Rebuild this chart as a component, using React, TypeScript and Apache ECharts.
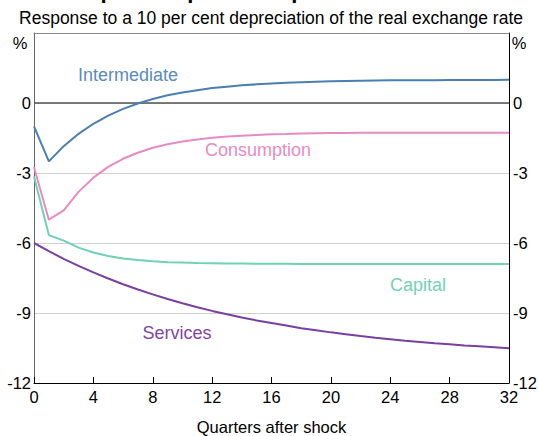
import React, { useEffect, useRef } from "react";
import * as echarts from "echarts";

const quarters: number[] = Array.from({ length: 33 }, (_, i) => i);

const intermediate = [
  -1.0, -2.5, -1.85, -1.32, -0.89, -0.54, -0.25, -0.02, 0.17, 0.33, 0.45, 0.55, 0.64,
  0.7, 0.76, 0.8, 0.84, 0.87, 0.89, 0.91, 0.93, 0.94, 0.95, 0.96, 0.97, 0.975, 0.98,
  0.98, 0.985, 0.99, 0.99, 0.99, 1.0,
];
const consumption = [
  -2.75, -5.0, -4.6, -3.81, -3.2, -2.74, -2.39, -2.13, -1.92, -1.77, -1.65, -1.56, -1.49,
  -1.44, -1.4, -1.37, -1.34, -1.33, -1.31, -1.3, -1.29, -1.29, -1.28, -1.28, -1.28,
  -1.28, -1.27, -1.27, -1.27, -1.27, -1.27, -1.27, -1.27,
];
const capital = [
  -3.15, -5.66, -5.9, -6.2, -6.41, -6.56, -6.66, -6.73, -6.78, -6.82, -6.84, -6.86,
  -6.87, -6.88, -6.88, -6.89, -6.89, -6.89, -6.9, -6.9, -6.9, -6.9, -6.9, -6.9, -6.9,
  -6.9, -6.9, -6.9, -6.9, -6.9, -6.9, -6.9, -6.9,
];
const services = [
  -6.0, -6.35, -6.68, -6.98, -7.26, -7.52, -7.77, -7.99, -8.2, -8.4, -8.58, -8.75, -8.91,
  -9.05, -9.19, -9.32, -9.43, -9.54, -9.65, -9.74, -9.83, -9.91, -9.99, -10.06, -10.12,
  -10.19, -10.24, -10.3, -10.34, -10.39, -10.43, -10.47, -10.51,
];

const seriesNames = ["Intermediate", "Consumption", "Capital", "Services"];
const colors = ["#4a7fb1", "#e88bc4", "#6fd3b2", "#7a3fa3"];

const FONT = "Arial, 'Liberation Sans', sans-serif";
const TICK = 16.5;

export default function App() {
  const ref = useRef<HTMLDivElement>(null);
  useEffect(() => {
    if (!ref.current) return;
    const chart = echarts.init(ref.current, null, { renderer: "svg" });
    const datasets = [intermediate, consumption, capital, services];
    const yLabel = (v: number) => (v === 3 ? "" : String(v));
    const lbl = (text: string, x: number, y: number, fill: string, size = 18) => ({
      type: "text",
      x,
      y,
      style: { text, fontSize: size, fill, align: "center", verticalAlign: "middle", fontFamily: FONT },
    });
    chart.setOption({
      animation: false,
      textStyle: { fontFamily: FONT },
      grid: { left: 34, right: 29, top: 33, bottom: 53, containLabel: false, outerBoundsMode: "none" },
      xAxis: [
        {
          type: "value",
          min: 0,
          max: 32,
          interval: 4,
          position: "bottom",
          name: "Quarters after shock",
          nameLocation: "middle",
          nameGap: 35,
          nameTextStyle: { fontSize: 16.5, color: "#000", fontFamily: FONT },
          axisLine: { show: true, onZero: false, lineStyle: { color: "#000", width: 1 } },
          axisTick: { show: true, inside: true, length: 6, lineStyle: { color: "#000" } },
          axisLabel: { fontSize: TICK, color: "#000", margin: 5, fontFamily: FONT },
          splitLine: { show: false },
        },
        {
          type: "value",
          min: 0,
          max: 32,
          interval: 4,
          position: "top",
          axisLine: { show: true, onZero: false, lineStyle: { color: "#888", width: 1 } },
          axisTick: { show: false },
          axisLabel: { show: false },
          splitLine: { show: false },
        },
      ],
      yAxis: [
        {
          type: "value",
          min: -12,
          max: 3,
          interval: 3,
          position: "left",
          axisLine: { show: true, onZero: false, lineStyle: { color: "#666", width: 1 } },
          axisTick: { show: false },
          axisLabel: { fontSize: TICK, color: "#000", margin: 3, formatter: yLabel, fontFamily: FONT },
          splitLine: { show: true, lineStyle: { color: "#d0d0d0", width: 1 } },
        },
        {
          type: "value",
          min: -12,
          max: 3,
          interval: 3,
          position: "right",
          axisLine: { show: true, onZero: false, lineStyle: { color: "#000", width: 1 } },
          axisTick: { show: false },
          axisLabel: { fontSize: TICK, color: "#000", margin: 4, formatter: yLabel, fontFamily: FONT },
          splitLine: { show: false },
        },
      ],
      series: datasets.map((d, i) => ({
        name: seriesNames[i],
        type: "line",
        data: d.map((v, j) => [quarters[j], v]),
        showSymbol: false,
        symbol: "none",
        lineStyle: { color: colors[i], width: 2 },
        z: 3,
        markLine:
          i === 0
            ? {
                silent: true,
                symbol: "none",
                label: { show: false },
                lineStyle: { color: "#555", width: 1.5, type: "solid" },
                data: [{ yAxis: 0 }],
                z: 2,
              }
            : undefined,
      })),
      graphic: [
        {
          type: "text",
          x: 271,
          y: -10,
          style: {
            text: "Imports Impulse Response Functions",
            fontSize: 22,
            fontWeight: "bold",
            fill: "#000",
            align: "center",
            verticalAlign: "middle",
            fontFamily: FONT,
          },
        },
        lbl("Response to a 10 per cent depreciation of the real exchange rate", 271, 18, "#000", 17.5),
        lbl("%", 20, 43, "#000", TICK),
        lbl("%", 519, 43, "#000", TICK),
        lbl("Intermediate", 128, 75, "#5a8bbd"),
        lbl("Consumption", 258, 150, "#e88bc4"),
        lbl("Capital", 418, 285, "#6fd3b2"),
        lbl("Services", 177, 333, "#7f45a8"),
      ],
    });
    return () => chart.dispose();
  }, []);
  return (
    <div
      ref={ref}
      style={{ position: "absolute", left: 0, top: 0, width: 538, height: 436 }}
    />
  );
}
